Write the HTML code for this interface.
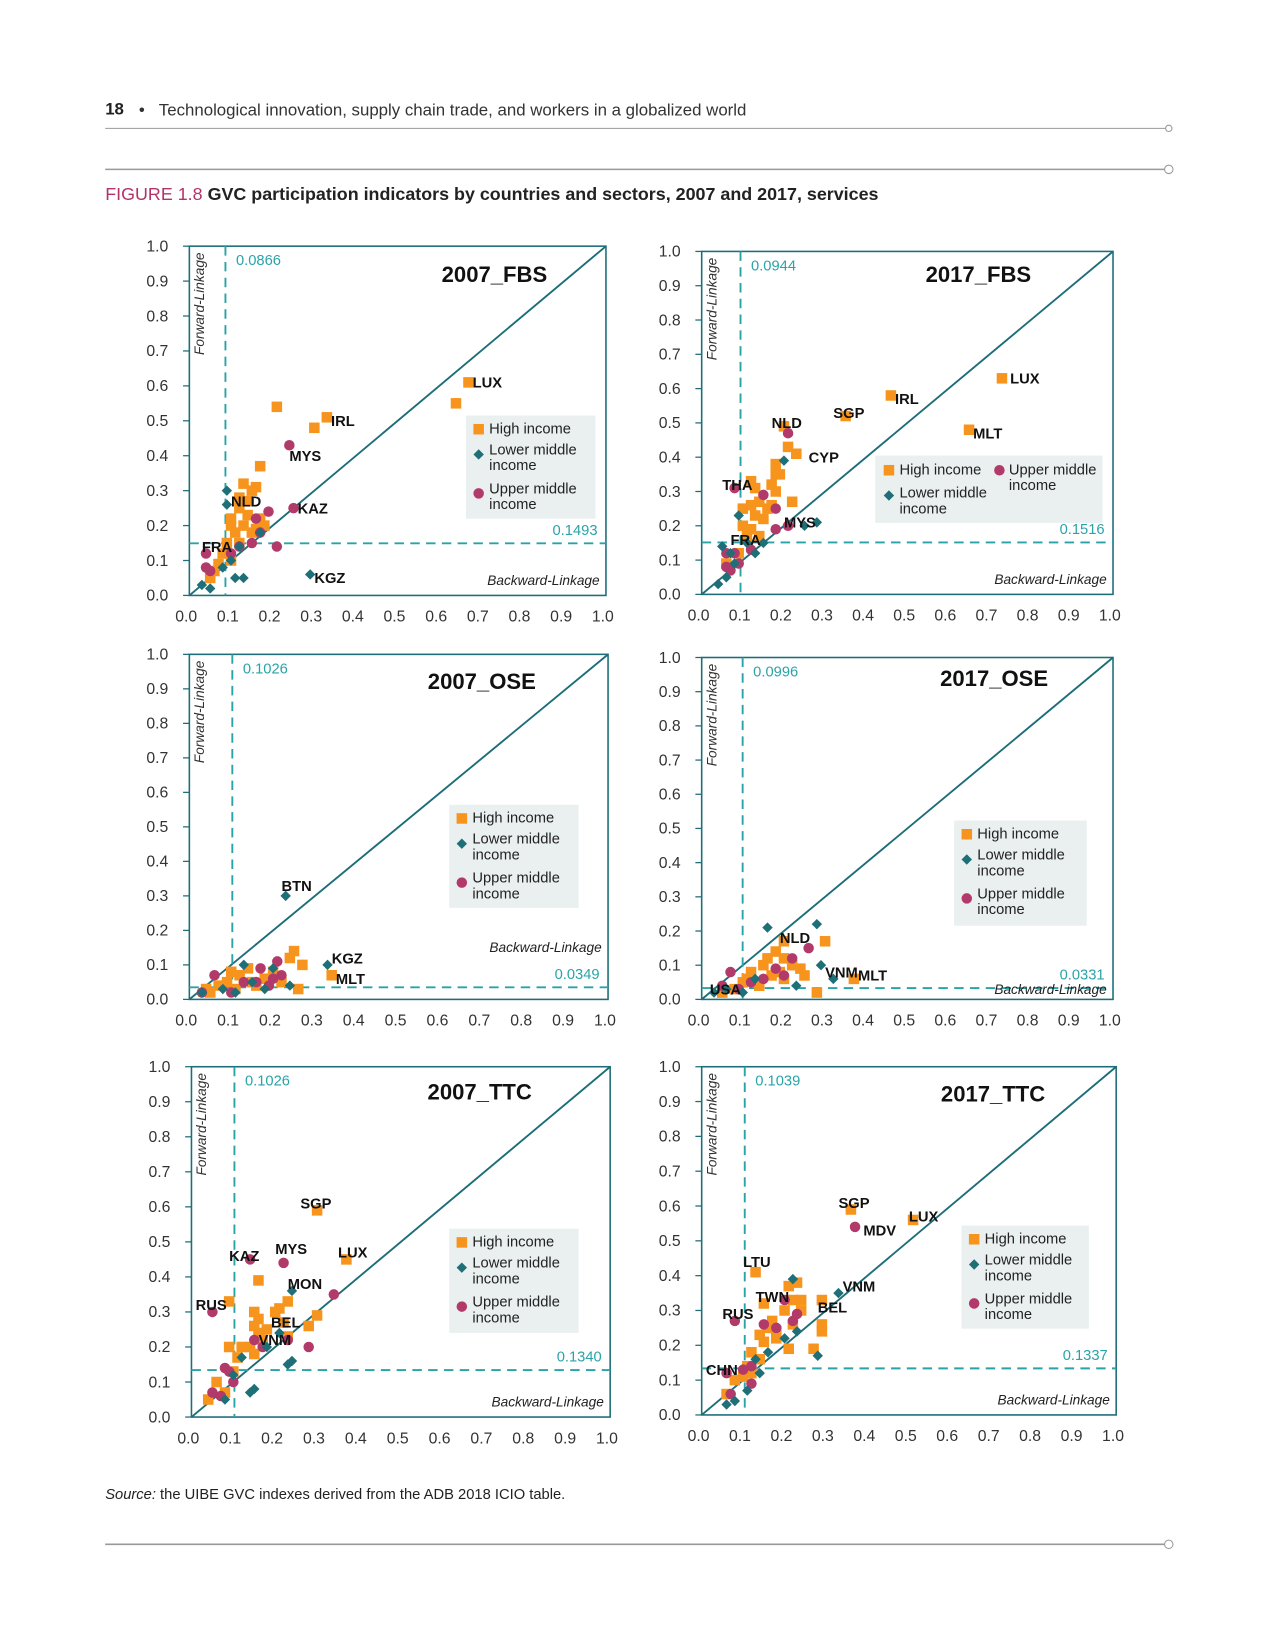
<!DOCTYPE html>
<html><head><meta charset="utf-8">
<style>
body{margin:0;background:#fff;}
#outer{position:relative;width:1275px;height:1650px;overflow:hidden;background:#fff;}
#page{position:absolute;left:0;top:0;width:1212px;height:1568px;background:#fff;font-family:"Liberation Sans",sans-serif;transform:scale(1.052);transform-origin:0 0;}
.t{position:absolute;white-space:nowrap;}
</style></head>
<body>
<div id="outer">
<div id="page">
<div class="t" style="left:100px;top:96px;font-size:16px;font-weight:bold;color:#222;">18</div>
<div class="t" style="left:132px;top:97px;font-size:16px;color:#333;">•&nbsp;&nbsp;&nbsp;Technological innovation, supply chain trade, and workers in a globalized world</div>
<div class="t" style="left:100px;top:175px;font-size:17px;color:#222;font-weight:bold;"><span style="color:#B2336A;font-weight:normal;">FIGURE 1.8</span> GVC participation indicators by countries and sectors, 2007 and 2017, services</div>
<div class="t" style="left:100px;top:1412px;font-size:14px;color:#222;"><i>Source:</i> the UIBE GVC indexes derived from the ADB 2018 ICIO table.</div>
<svg id="chart" width="1212" height="1568" style="position:absolute;left:0;top:0;">
<line x1="100" y1="122" x2="1108" y2="122" stroke="#999" stroke-width="1"/>
<circle cx="1111" cy="122" r="3" fill="#fff" stroke="#999"/>
<line x1="100" y1="161" x2="1107" y2="161" stroke="#999" stroke-width="1.5"/>
<circle cx="1111" cy="161" r="4" fill="#fff" stroke="#999"/>
<line x1="100" y1="1468" x2="1107" y2="1468" stroke="#999" stroke-width="1.5"/>
<circle cx="1111" cy="1468" r="4" fill="#fff" stroke="#999"/>
</svg>
</div>
</div>
<script>
// ---- data (x = backward linkage, y = forward linkage) ----
const ticks = ["0.0","0.1","0.2","0.3","0.4","0.5","0.6","0.7","0.8","0.9","1.0"];
const tickVals = [0,0.1,0.2,0.3,0.4,0.5,0.6,0.7,0.8,0.9,1.0];
const titles = ["2007_FBS","2017_FBS","2007_OSE","2017_OSE","2007_TTC","2017_TTC"];
const thrX = [0.0866,0.0944,0.1026,0.0996,0.1026,0.1039];
const thrY = [0.1493,0.1516,0.0349,0.0331,0.1340,0.1337];

const p1HiX=[0.67,0.64,0.33,0.30,0.21,0.17,0.13,0.15,0.16,0.12,0.14,0.10,0.12,0.17,0.10,0.13,0.15,0.11,0.09,0.12,0.16,0.08,0.06,0.05,0.07,0.10,0.14,0.18];
const p1HiY=[0.61,0.55,0.51,0.48,0.54,0.37,0.32,0.30,0.31,0.28,0.27,0.22,0.25,0.22,0.20,0.20,0.18,0.18,0.15,0.15,0.19,0.12,0.07,0.05,0.09,0.10,0.23,0.20];
const p1LmX=[0.09,0.09,0.29,0.11,0.13,0.03,0.08,0.10,0.12,0.17,0.05];
const p1LmY=[0.30,0.26,0.06,0.05,0.05,0.03,0.08,0.10,0.14,0.18,0.02];
const p1UmX=[0.24,0.25,0.19,0.16,0.17,0.15,0.21,0.12,0.04,0.04,0.05,0.10];
const p1UmY=[0.43,0.25,0.24,0.22,0.18,0.15,0.14,0.14,0.12,0.08,0.07,0.12];
const p1Lab=["LUX","IRL","MYS","KAZ","NLD","FRA","KGZ"];
const p1LabX=[0.68,0.34,0.24,0.26,0.10,0.03,0.30];
const p1LabY=[0.61,0.50,0.40,0.25,0.27,0.14,0.05];

const p2HiX=[0.73,0.65,0.46,0.35,0.20,0.21,0.23,0.18,0.18,0.19,0.17,0.18,0.22,0.12,0.13,0.10,0.12,0.14,0.13,0.15,0.16,0.10,0.12,0.14,0.09,0.06,0.11,0.17];
const p2HiY=[0.63,0.48,0.58,0.52,0.49,0.43,0.41,0.38,0.35,0.35,0.32,0.30,0.27,0.33,0.31,0.25,0.26,0.27,0.23,0.22,0.25,0.20,0.19,0.17,0.12,0.09,0.17,0.26];
const p2LmX=[0.20,0.09,0.05,0.07,0.08,0.11,0.15,0.13,0.25,0.28,0.04,0.06];
const p2LmY=[0.39,0.23,0.14,0.12,0.09,0.15,0.15,0.12,0.20,0.21,0.03,0.05];
const p2UmX=[0.21,0.08,0.15,0.18,0.18,0.21,0.12,0.08,0.06,0.06,0.07,0.09];
const p2UmY=[0.47,0.31,0.29,0.25,0.19,0.20,0.13,0.12,0.12,0.08,0.07,0.09];
const p2Lab=["LUX","IRL","SGP","NLD","CYP","MLT","THA","MYS","FRA"];
const p2LabX=[0.75,0.47,0.32,0.17,0.26,0.66,0.05,0.20,0.07];
const p2LabY=[0.63,0.57,0.53,0.50,0.40,0.47,0.32,0.21,0.16];

const p3HiX=[0.34,0.25,0.27,0.24,0.26,0.20,0.18,0.15,0.12,0.09,0.07,0.05,0.14,0.10,0.22,0.16,0.04,0.11];
const p3HiY=[0.07,0.14,0.10,0.12,0.03,0.08,0.06,0.05,0.07,0.05,0.04,0.02,0.09,0.08,0.05,0.04,0.03,0.03];
const p3LmX=[0.23,0.33,0.13,0.08,0.15,0.20,0.24,0.11,0.18,0.03];
const p3LmY=[0.30,0.10,0.10,0.03,0.05,0.09,0.04,0.02,0.03,0.02];
const p3UmX=[0.21,0.17,0.22,0.19,0.06,0.10,0.13,0.03,0.16,0.20];
const p3UmY=[0.11,0.09,0.07,0.04,0.07,0.02,0.05,0.02,0.05,0.06];
const p3Lab=["BTN","KGZ","MLT"];
const p3LabX=[0.22,0.34,0.35];
const p3LabY=[0.33,0.12,0.06];

const p4HiX=[0.37,0.20,0.30,0.18,0.20,0.22,0.15,0.12,0.17,0.20,0.25,0.10,0.14,0.08,0.28,0.05,0.16,0.24,0.11,0.19];
const p4HiY=[0.06,0.17,0.17,0.14,0.12,0.10,0.10,0.08,0.07,0.06,0.07,0.05,0.04,0.03,0.02,0.02,0.12,0.09,0.06,0.08];
const p4LmX=[0.16,0.28,0.29,0.32,0.23,0.10,0.06,0.13,0.03];
const p4LmY=[0.21,0.22,0.10,0.06,0.04,0.02,0.03,0.06,0.02];
const p4UmX=[0.26,0.22,0.07,0.18,0.12,0.05,0.09,0.15,0.20];
const p4UmY=[0.15,0.12,0.08,0.09,0.05,0.04,0.03,0.06,0.07];
const p4Lab=["NLD","VNM","MLT","USA"];
const p4LabX=[0.19,0.30,0.38,0.02];
const p4LabY=[0.18,0.08,0.07,0.03];

const p5HiX=[0.30,0.37,0.16,0.09,0.23,0.30,0.28,0.20,0.21,0.15,0.16,0.15,0.16,0.17,0.14,0.12,0.15,0.11,0.09,0.10,0.06,0.04,0.08,0.23,0.22,0.18];
const p5HiY=[0.59,0.45,0.39,0.33,0.33,0.29,0.26,0.30,0.31,0.30,0.28,0.26,0.24,0.22,0.20,0.20,0.18,0.17,0.20,0.13,0.10,0.05,0.07,0.23,0.27,0.25];
const p5LmX=[0.24,0.21,0.24,0.23,0.15,0.14,0.10,0.08,0.12,0.18];
const p5LmY=[0.36,0.24,0.16,0.15,0.08,0.07,0.12,0.05,0.17,0.20];
const p5UmX=[0.14,0.22,0.05,0.34,0.15,0.23,0.28,0.17,0.08,0.09,0.05,0.07,0.10];
const p5UmY=[0.45,0.44,0.30,0.35,0.22,0.22,0.20,0.20,0.14,0.13,0.07,0.06,0.10];
const p5Lab=["SGP","LUX","KAZ","MYS","MON","RUS","BEL","VNM"];
const p5LabX=[0.26,0.35,0.09,0.20,0.23,0.01,0.19,0.16];
const p5LabY=[0.61,0.47,0.46,0.48,0.38,0.32,0.27,0.22];

const p6HiX=[0.36,0.51,0.13,0.23,0.21,0.22,0.24,0.29,0.15,0.20,0.24,0.17,0.29,0.29,0.18,0.14,0.15,0.18,0.21,0.27,0.12,0.14,0.11,0.12,0.10,0.06,0.08,0.16,0.22];
const p6HiY=[0.59,0.56,0.41,0.38,0.37,0.33,0.33,0.33,0.32,0.30,0.30,0.27,0.26,0.24,0.24,0.23,0.21,0.22,0.19,0.19,0.18,0.16,0.14,0.12,0.11,0.06,0.10,0.25,0.26];
const p6LmX=[0.33,0.22,0.28,0.23,0.16,0.13,0.11,0.08,0.06,0.20,0.14];
const p6LmY=[0.35,0.39,0.17,0.24,0.18,0.16,0.07,0.04,0.03,0.22,0.12];
const p6UmX=[0.37,0.08,0.20,0.22,0.18,0.15,0.12,0.10,0.06,0.07,0.12,0.23];
const p6UmY=[0.54,0.27,0.33,0.27,0.25,0.26,0.09,0.13,0.12,0.06,0.14,0.29];
const p6Lab=["SGP","LUX","MDV","LTU","VNM","RUS","TWN","BEL","CHN"];
const p6LabX=[0.33,0.50,0.39,0.10,0.34,0.05,0.13,0.28,0.01];
const p6LabY=[0.61,0.57,0.53,0.44,0.37,0.29,0.34,0.31,0.13];

const allData=[
 [p1HiX,p1HiY,p1LmX,p1LmY,p1UmX,p1UmY,p1Lab,p1LabX,p1LabY],
 [p2HiX,p2HiY,p2LmX,p2LmY,p2UmX,p2UmY,p2Lab,p2LabX,p2LabY],
 [p3HiX,p3HiY,p3LmX,p3LmY,p3UmX,p3UmY,p3Lab,p3LabX,p3LabY],
 [p4HiX,p4HiY,p4LmX,p4LmY,p4UmX,p4UmY,p4Lab,p4LabX,p4LabY],
 [p5HiX,p5HiY,p5LmX,p5LmY,p5UmX,p5UmY,p5Lab,p5LabX,p5LabY],
 [p6HiX,p6HiY,p6LmX,p6LmY,p6UmX,p6UmY,p6Lab,p6LabX,p6LabY]
];
// ---- layout ----
const frames=[
 {ax0:180,ax1:576,ay0:566,ay1:234,leg:[443,395,123,98,false],title:[470,268]},
 {ax0:667,ax1:1058,ay0:565,ay1:239,leg:[832,433,216,64,true],title:[930,268]},
 {ax0:180,ax1:578,ay0:950,ay1:622,leg:[427,765,123,98,false],title:[458,655]},
 {ax0:667,ax1:1058,ay0:950,ay1:625,leg:[907,780,126,100,false],title:[945,652]},
 {ax0:182,ax1:580,ay0:1347,ay1:1014,leg:[427,1168,123,99,false],title:[456,1045]},
 {ax0:667,ax1:1061,ay0:1345,ay1:1014,leg:[914,1165,121,98,false],title:[944,1047]}
];
const NS="http://www.w3.org/2000/svg";
const svg=document.getElementById('chart');
const TEAL="#1D6E78",DASH="#2AA3A8",OR="#F7941D",DIA="#1F6F78",MAR="#B23A6A";
function mk(tag,attrs,parent){const e=document.createElementNS(NS,tag);for(const k in attrs)e.setAttribute(k,attrs[k]);(parent||svg).appendChild(e);return e;}
function txt(s,x,y,attrs,parent){const e=mk('text',Object.assign({x:x,y:y,'font-family':'"Liberation Sans",sans-serif'},attrs),parent);e.textContent=s;return e;}
function sq(g,x,y){const e=mk('rect',{x:x-5,y:y-5,width:10,height:10,fill:OR},g);

}
function dm(g,x,y){const e=mk('rect',{x:x-3.5,y:y-3.5,width:7,height:7,fill:DIA,transform:`rotate(45 ${x} ${y})`},g);

}
function ci(g,x,y){const e=mk('circle',{cx:x,cy:y,r:5,fill:MAR},g);

}

frames.forEach((f,i)=>{
 const X=v=>f.ax0+v*(f.ax1-f.ax0), Y=v=>f.ay0-v*(f.ay0-f.ay1);
 const g=mk('g',{});
 
 
 const fr=mk('rect',{x:X(0),y:Y(1),width:X(1)-X(0),height:Y(0)-Y(1),fill:'none',stroke:TEAL,'stroke-width':1.5},g);
 
 
 const dg=mk('line',{x1:X(0),y1:Y(0),x2:X(1),y2:Y(1),stroke:TEAL,'stroke-width':1.8},g);
 
 
 tickVals.forEach((v,k)=>{
  const tl=mk('line',{x1:X(0)-6,y1:Y(v),x2:X(0),y2:Y(v),stroke:TEAL,'stroke-width':1.2},g);
  
  
  const yl=txt(ticks[k],X(0)-20,Y(v)+5,{'font-size':15,fill:'#333','text-anchor':'end'},g);
  
  
  const xl=txt(ticks[k],X(v)-3,Y(0)+25,{'font-size':15,fill:'#333','text-anchor':'middle'},g);
  
  
 });
 const vx=X(thrX[i]);
 const vl=mk('line',{x1:vx,y1:Y(1),x2:vx,y2:Y(0),stroke:DASH,'stroke-width':1.8,'stroke-dasharray':'9,6'},g);
 
 
 const hl=mk('line',{x1:X(0),y1:Y(thrY[i]),x2:X(1),y2:Y(thrY[i]),stroke:DASH,'stroke-width':1.8,'stroke-dasharray':'9,6'},g);
 
 
 const vt=txt(thrX[i].toFixed(4),vx+10,Y(1)+18,{'font-size':14,fill:'#2AA3A8'},g);
 
 
 const ht=txt(thrY[i].toFixed(4),X(1)-8,Y(thrY[i])-8,{'font-size':14,fill:'#2AA3A8','text-anchor':'end'},g);
 
 
 const fl=txt('Forward-Linkage',0,0,{'font-size':13,fill:'#333','font-style':'italic','text-anchor':'end',transform:`translate(${X(0)+14},${Y(1)+6}) rotate(-90)`},g);
 
 
 const byOff=(i===2||i===3)?(i===2?-45:-5):-10;
 const bl=txt('Backward-Linkage',X(1)-6,Y(0)+byOff,{'font-size':13,fill:'#222','font-style':'italic','text-anchor':'end'},g);
 
 
 const tt=txt(titles[i],f.title[0],f.title[1],{'font-size':21,'font-weight':'bold',fill:'#111','text-anchor':'middle'},g);
 
 
 const d=allData[i];
 d[0].forEach((v,k)=>sq(g,X(v),Y(d[1][k])));
 d[4].forEach((v,k)=>ci(g,X(v),Y(d[5][k])));
 d[2].forEach((v,k)=>dm(g,X(v),Y(d[3][k])));
 d[6].forEach((s,k)=>{
  const l=txt(s,X(d[7][k]),Y(d[8][k])+5,{'font-size':14,'font-weight':'bold',fill:'#111'},g);
  
  
 });
 const [lx,ly,lw,lh,wide]=f.leg;
 const lg=mk('g',{},g);
 
 
 mk('rect',{x:lx,y:ly,width:lw,height:lh,fill:'#E9F0EF'},lg);
 const fs={'font-size':14,fill:'#222'};
 if(!wide){
  sq(lg,lx+12,ly+13);txt('High income',lx+22,ly+17,fs,lg);
  dm(lg,lx+12,ly+37);txt('Lower middle',lx+22,ly+37,fs,lg);txt('income',lx+22,ly+52,fs,lg);
  ci(lg,lx+12,ly+74);txt('Upper middle',lx+22,ly+74,fs,lg);txt('income',lx+22,ly+89,fs,lg);
 } else {
  sq(lg,lx+13,ly+14);txt('High income',lx+23,ly+18,fs,lg);
  dm(lg,lx+13,ly+38);txt('Lower middle',lx+23,ly+40,fs,lg);txt('income',lx+23,ly+55,fs,lg);
  ci(lg,lx+118,ly+14);txt('Upper middle',lx+127,ly+18,fs,lg);txt('income',lx+127,ly+33,fs,lg);
 }
});
</script>
</body></html>
